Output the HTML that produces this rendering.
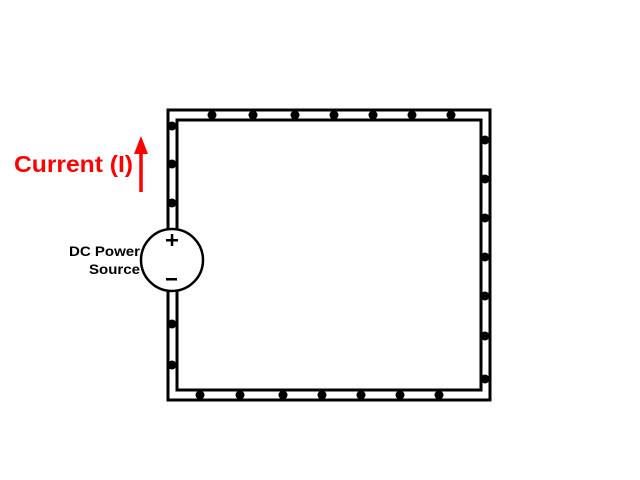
<!DOCTYPE html>
<html><head><style>body{margin:0;background:#fff}svg{display:block}</style></head><body>
<svg width="640" height="480" xmlns="http://www.w3.org/2000/svg">
<rect x="168" y="110" width="322" height="290" fill="none" stroke="#000" stroke-width="3"/>
<rect x="177" y="120" width="304" height="270" fill="none" stroke="#000" stroke-width="3"/>
<g fill="#000">
<circle cx="172" cy="126" r="4.5"/><circle cx="172" cy="164" r="4.5"/><circle cx="172" cy="203" r="4.5"/><circle cx="172" cy="324" r="4.5"/><circle cx="172" cy="365" r="4.5"/>
<circle cx="212" cy="115" r="4.5"/><circle cx="253" cy="115" r="4.5"/><circle cx="295" cy="115" r="4.5"/><circle cx="334" cy="115" r="4.5"/><circle cx="373" cy="115" r="4.5"/><circle cx="412" cy="115" r="4.5"/><circle cx="451" cy="115" r="4.5"/>
<circle cx="485" cy="140" r="4.5"/><circle cx="485" cy="179" r="4.5"/><circle cx="485" cy="218" r="4.5"/><circle cx="485" cy="257" r="4.5"/><circle cx="485" cy="296" r="4.5"/><circle cx="485" cy="336" r="4.5"/><circle cx="485" cy="379" r="4.5"/>
<circle cx="200" cy="395" r="4.5"/><circle cx="240" cy="395" r="4.5"/><circle cx="283" cy="395" r="4.5"/><circle cx="322" cy="395" r="4.5"/><circle cx="361" cy="395" r="4.5"/><circle cx="400" cy="395" r="4.5"/><circle cx="439" cy="395" r="4.5"/>
</g>
<circle cx="172" cy="260" r="31" fill="#fff" stroke="#000" stroke-width="2.5"/>
<rect x="166" y="239" width="12" height="2.5" fill="#000"/>
<rect x="170.8" y="234" width="2.5" height="12" fill="#000"/>
<rect x="166" y="278" width="11" height="2.5" fill="#000"/>
<text x="69" y="256" textLength="71" lengthAdjust="spacingAndGlyphs" font-family="Liberation Sans, sans-serif" font-weight="bold" font-size="14">DC Power</text>
<text x="89" y="274" textLength="51" lengthAdjust="spacingAndGlyphs" font-family="Liberation Sans, sans-serif" font-weight="bold" font-size="14">Source</text>
<text x="14" y="172" textLength="119" lengthAdjust="spacingAndGlyphs" font-family="Liberation Sans, sans-serif" font-weight="bold" font-size="23" fill="#f00">Current (I)</text>
<line x1="141" y1="192" x2="141" y2="150" stroke="#f00" stroke-width="3.5"/>
<polygon points="134,154 148,154 141,136" fill="#f00"/>
</svg>
</body></html>
